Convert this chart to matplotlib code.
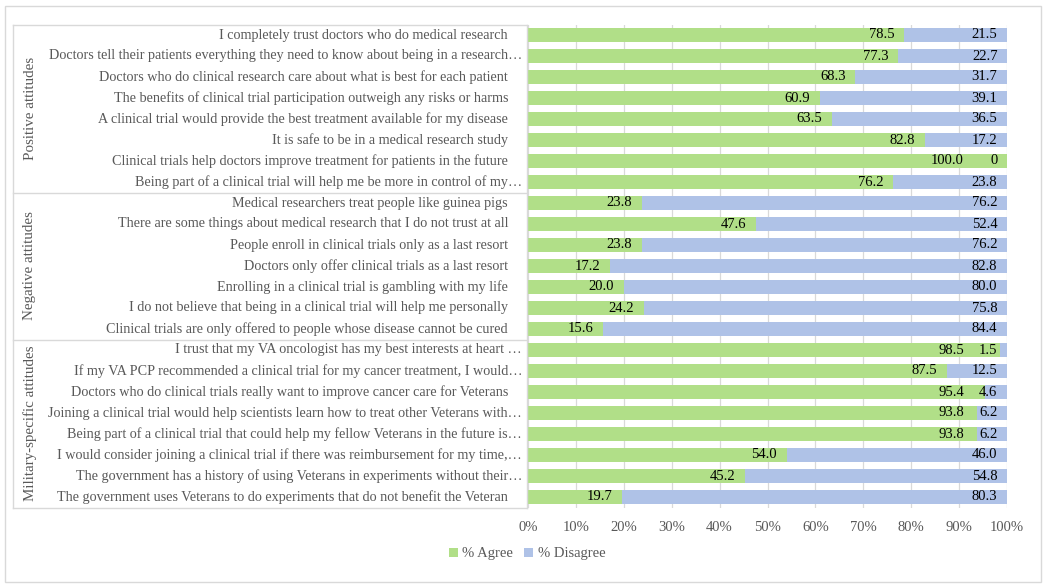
import matplotlib
matplotlib.use("Agg")
import matplotlib.pyplot as plt
from matplotlib.transforms import blended_transform_factory
from matplotlib.patches import Rectangle
from matplotlib.lines import Line2D

plt.rcParams['font.family'] = ['Liberation Serif', 'DejaVu Serif']

groups = ["Positive attitudes", "Negative attitudes", "Military-specific attitudes"]
positive_items = [
    "I completely trust doctors who do medical research",
    "Doctors tell their patients everything they need to know about being in a research…",
    "Doctors who do clinical research care about what is best for each patient",
    "The benefits of clinical trial participation outweigh any risks or harms",
    "A clinical trial would provide the best treatment available for my disease",
    "It is safe to be in a medical research study",
    "Clinical trials help doctors improve treatment for patients in the future",
    "Being part of a clinical trial will help me be more in control of my…",
]
positive_agree = [78.5, 77.3, 68.3, 60.9, 63.5, 82.8, 100.0, 76.2]
positive_disagree = [21.5, 22.7, 31.7, 39.1, 36.5, 17.2, 0, 23.8]

negative_items = [
    "Medical researchers treat people like guinea pigs",
    "There are some things about medical research that I do not trust at all",
    "People enroll in clinical trials only as a last resort",
    "Doctors only offer clinical trials as a last resort",
    "Enrolling in a clinical trial is gambling with my life",
    "I do not believe that being in a clinical trial will help me personally",
    "Clinical trials are only offered to people whose disease cannot be cured",
]
negative_agree = [23.8, 47.6, 23.8, 17.2, 20.0, 24.2, 15.6]
negative_disagree = [76.2, 52.4, 76.2, 82.8, 80.0, 75.8, 84.4]

military_items = [
    "I trust that my VA oncologist has my best interests at heart …",
    "If my VA PCP recommended a clinical trial for my cancer treatment, I would…",
    "Doctors who do clinical trials really want to improve cancer care for Veterans",
    "Joining a clinical trial would help scientists learn how to treat other Veterans with…",
    "Being part of a clinical trial that could help my fellow Veterans in the future is…",
    "I would consider joining a clinical trial if there was reimbursement for my time,…",
    "The government has a history of using Veterans in experiments without their…",
    "The government uses Veterans to do experiments that do not benefit the Veteran",
]
military_agree = [98.5, 87.5, 95.4, 93.8, 93.8, 54.0, 45.2, 19.7]
military_disagree = [1.5, 12.5, 4.6, 6.2, 6.2, 46.0, 54.8, 80.3]

x_ticks = [0, 10, 20, 30, 40, 50, 60, 70, 80, 90, 100]
x_tick_labels = ["0%", "10%", "20%", "30%", "40%", "50%", "60%", "70%", "80%", "90%", "100%"]
legend_labels = ["% Agree", "% Disagree"]

items = positive_items + negative_items + military_items
agree = positive_agree + negative_agree + military_agree
disagree = positive_disagree + negative_disagree + military_disagree
group_sizes = [len(positive_items), len(negative_items), len(military_items)]

GREEN = "#b1df88"
BLUE = "#afc2e7"
GRID = "#d9d9d9"
TXT = "#595959"

W, H = 1049, 587
fig = plt.figure(figsize=(W / 100, H / 100), dpi=100)

# axes placement in pixels
x0, x1 = 528, 1007
y0, y1 = 24.5, 507.5
ax = fig.add_axes([x0 / W, 1 - y1 / H, (x1 - x0) / W, (y1 - y0) / H])

n = len(items)
ypos = list(range(n))
ax.barh(ypos, agree, height=0.68, color=GREEN, zorder=2, label=legend_labels[0])
ax.barh(ypos, disagree, left=agree, height=0.68, color=BLUE, zorder=2, label=legend_labels[1])

ax.set_xlim(0, 100)
ax.set_ylim(n - 0.5, -0.5)
ax.set_xticks(x_ticks)
ax.set_xticklabels(x_tick_labels, color=TXT, fontsize=10.5)
ax.tick_params(axis='x', length=0, pad=10)
ax.set_yticks([])
for s in ax.spines.values():
    s.set_visible(False)
ax.grid(axis='x', color=GRID, linewidth=0.9, zorder=0)
ax.set_axisbelow(True)

# value labels
for i in range(n):
    a, d = agree[i], disagree[i]
    ax.text(min(a - 2.0, 91.0), i, f"{a:.1f}", ha='right', va='center',
            fontsize=10.5, color='black', zorder=3)
    dtxt = "0" if d == 0 else f"{d:.1f}"
    ax.text(98.0, i, dtxt, ha='right', va='center', fontsize=10.5, color='black', zorder=3)

# category table on the left
tr = blended_transform_factory(fig.transFigure, ax.transData)
for i, lab in enumerate(items):
    xr = 522 if lab.endswith("…") else 508
    ax.text(xr / W, i, lab, transform=tr, ha='right', va='center',
            fontsize=10.2, color=TXT, clip_on=False)

bounds = [-0.5]
for g in group_sizes:
    bounds.append(bounds[-1] + g)
for b in bounds:
    ax.add_line(Line2D([13 / W, 527 / W], [b, b], transform=tr, color=GRID,
                       linewidth=1.0, clip_on=False))
ax.add_line(Line2D([13 / W, 13 / W], [bounds[0], bounds[-1]], transform=tr,
                   color=GRID, linewidth=1.0, clip_on=False))
ax.add_line(Line2D([527 / W, 527 / W], [bounds[0], bounds[-1]], transform=tr,
                   color=GRID, linewidth=1.0, clip_on=False))
for gi, g in enumerate(groups):
    mid = (bounds[gi] + bounds[gi + 1]) / 2
    ax.text(30 / W, mid, g, transform=tr, rotation=90, ha='center', va='center',
            fontsize=10.8, color=TXT, clip_on=False)

# legend
leg = fig.legend(loc='center', bbox_to_anchor=(527 / W, 1 - 554 / H), ncol=2,
                 frameon=False, fontsize=10.5, handlelength=0.6, handleheight=0.6,
                 handletextpad=0.3, columnspacing=0.8)
for t in leg.get_texts():
    t.set_color(TXT)

# outer frame
fig.patches.append(Rectangle((5 / W, 1 - 582 / H), (1041 - 5) / W, (582 - 6) / H,
                             transform=fig.transFigure, fill=False,
                             edgecolor=GRID, linewidth=1.0))

fig.savefig("out.png", dpi=100)
